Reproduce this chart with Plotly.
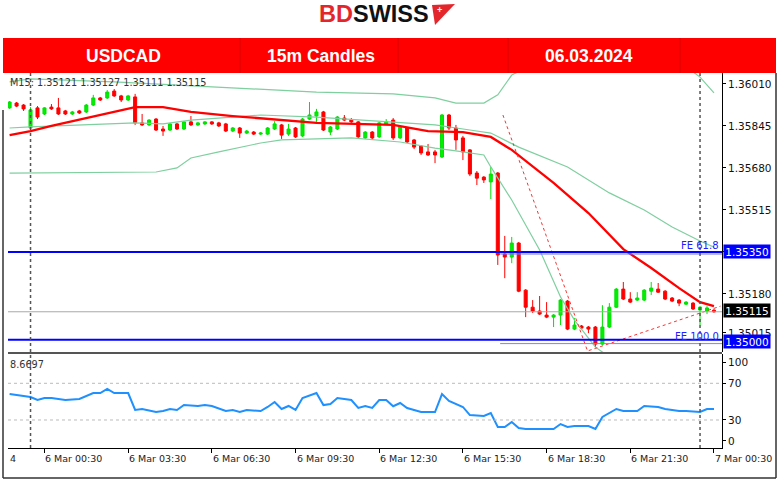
import plotly.graph_objects as go
import pandas as pd

# ---------------- data ----------------
candle_start = "2024-03-05 23:15"   # 15-minute candles
opens = [1.35916, 1.35935, 1.35927, 1.35837, 1.35916, 1.35892, 1.35919, 1.35916, 1.35904, 1.35892,
         1.35904, 1.35900, 1.35927, 1.35955, 1.35955, 1.35982, 1.35963, 1.35947, 1.35959, 1.35857,
         1.35849, 1.35872, 1.35833, 1.35829, 1.35853, 1.35833, 1.35861, 1.35849, 1.35853, 1.35861,
         1.35857, 1.35853, 1.35825, 1.35837, 1.35817, 1.35821, 1.35813, 1.35813, 1.35833, 1.35849,
         1.35813, 1.35837, 1.35806, 1.35872, 1.35884, 1.35900, 1.35821, 1.35833, 1.35876, 1.35868,
         1.35861, 1.35798, 1.35821, 1.35802, 1.35853, 1.35868, 1.35798, 1.35837, 1.35790, 1.35766,
         1.35743, 1.35743, 1.35723, 1.35888, 1.35837, 1.35798, 1.35751, 1.35660, 1.35644, 1.35625,
         1.35660, 1.35342, 1.35330, 1.35385, 1.35200, 1.35133, 1.35118, 1.35102, 1.35094, 1.35102,
         1.35157, 1.35047, 1.35059, 1.35055, 1.35055, 1.34988, 1.35055, 1.35133, 1.35204, 1.35165,
         1.35161, 1.35161, 1.35196, 1.35204, 1.35196, 1.35169, 1.35161, 1.35145, 1.35149, 1.35122,
         1.35118, 1.35121]
highs = [1.35943, 1.35939, 1.35931, 1.35919, 1.35923, 1.35919, 1.35931, 1.35955, 1.35908, 1.35904,
         1.35908, 1.35931, 1.35967, 1.35959, 1.35986, 1.35990, 1.35967, 1.35967, 1.35971, 1.35892,
         1.35872, 1.35876, 1.35845, 1.35857, 1.35857, 1.35864, 1.35884, 1.35861, 1.35864, 1.35864,
         1.35861, 1.35857, 1.35841, 1.35841, 1.35829, 1.35825, 1.35821, 1.35841, 1.35864, 1.35853,
         1.35853, 1.35841, 1.35876, 1.35939, 1.35912, 1.35904, 1.35845, 1.35884, 1.35888, 1.35876,
         1.35864, 1.35825, 1.35825, 1.35861, 1.35872, 1.35876, 1.35845, 1.35841, 1.35794, 1.35770,
         1.35774, 1.35751, 1.35892, 1.35892, 1.35849, 1.35806, 1.35754, 1.35668, 1.35648, 1.35684,
         1.35664, 1.35413, 1.35409, 1.35389, 1.35204, 1.35161, 1.35177, 1.35153, 1.35106, 1.35165,
         1.35161, 1.35090, 1.35063, 1.35059, 1.35059, 1.35141, 1.35149, 1.35208, 1.35232, 1.35192,
         1.35192, 1.35204, 1.35232, 1.35228, 1.35200, 1.35173, 1.35165, 1.35157, 1.35153, 1.35137,
         1.35137, 1.35127]
lows = [1.35912, 1.35919, 1.35904, 1.35833, 1.35872, 1.35888, 1.35908, 1.35888, 1.35888, 1.35888,
        1.35892, 1.35896, 1.35923, 1.35943, 1.35951, 1.35959, 1.35939, 1.35943, 1.35849, 1.35845,
        1.35845, 1.35825, 1.35806, 1.35825, 1.35829, 1.35829, 1.35845, 1.35845, 1.35849, 1.35849,
        1.35841, 1.35821, 1.35821, 1.35798, 1.35813, 1.35809, 1.35809, 1.35809, 1.35829, 1.35794,
        1.35806, 1.35798, 1.35802, 1.35868, 1.35861, 1.35825, 1.35809, 1.35829, 1.35864, 1.35857,
        1.35798, 1.35794, 1.35790, 1.35798, 1.35849, 1.35790, 1.35794, 1.35778, 1.35754, 1.35731,
        1.35727, 1.35699, 1.35719, 1.35829, 1.35751, 1.35711, 1.35648, 1.35613, 1.35621, 1.35558,
        1.35299, 1.35247, 1.35306, 1.35192, 1.35094, 1.35110, 1.35102, 1.35090, 1.35055, 1.35063,
        1.35043, 1.35043, 1.35047, 1.35031, 1.34976, 1.34984, 1.35051, 1.35130, 1.35161, 1.35149,
        1.35157, 1.35157, 1.35181, 1.35189, 1.35161, 1.35153, 1.35137, 1.35141, 1.35122, 1.35063,
        1.35106, 1.35111]
closes = [1.35939, 1.35923, 1.35912, 1.35908, 1.35880, 1.35916, 1.35912, 1.35892, 1.35892, 1.35900,
          1.35896, 1.35927, 1.35955, 1.35947, 1.35978, 1.35963, 1.35947, 1.35963, 1.35857, 1.35849,
          1.35868, 1.35829, 1.35825, 1.35853, 1.35833, 1.35861, 1.35849, 1.35857, 1.35861, 1.35853,
          1.35845, 1.35825, 1.35837, 1.35817, 1.35825, 1.35813, 1.35817, 1.35837, 1.35853, 1.35809,
          1.35833, 1.35802, 1.35872, 1.35888, 1.35900, 1.35829, 1.35841, 1.35880, 1.35868, 1.35861,
          1.35802, 1.35821, 1.35798, 1.35857, 1.35861, 1.35798, 1.35841, 1.35782, 1.35762, 1.35739,
          1.35731, 1.35731, 1.35888, 1.35837, 1.35790, 1.35743, 1.35656, 1.35640, 1.35633, 1.35656,
          1.35338, 1.35330, 1.35385, 1.35196, 1.35133, 1.35118, 1.35106, 1.35094, 1.35102, 1.35161,
          1.35047, 1.35063, 1.35051, 1.35047, 1.34988, 1.35055, 1.35133, 1.35204, 1.35165, 1.35153,
          1.35169, 1.35200, 1.35208, 1.35192, 1.35165, 1.35157, 1.35149, 1.35153, 1.35126, 1.35133,
          1.35130, 1.35115]

# indicator readings: bar offset (15-min bars from 6 Mar 00:00) and value
ma_bar = [-3, 0, 3, 9, 15, 19, 23, 29, 33, 41, 52, 57, 62, 66, 69, 75, 80, 85, 89, 93, 96, 97, 98]
ma_val = [1.35809, 1.35825, 1.35845, 1.35883, 1.35919, 1.35919, 1.35900, 1.35884, 1.35876, 1.35857,
          1.35849, 1.35825, 1.35821, 1.35802, 1.35751, 1.35621, 1.35503, 1.35361, 1.35287, 1.35208,
          1.35153, 1.35145, 1.35137]
bb_mid_bar = [-3, 0, 15, 19, 23, 29, 33, 41, 52, 58, 63, 66, 70, 77, 83, 88, 92, 96, 98]
bb_mid_val = [1.35837, 1.35841, 1.35857, 1.35853, 1.35868, 1.35880, 1.35888, 1.35880, 1.35861, 1.35849,
              1.35829, 1.35817, 1.35762, 1.35684, 1.35582, 1.35515, 1.35448, 1.35393, 1.35369]
bb_up_bar = [-3, 0, 12, 33, 41, 52, 58, 61, 65, 67, 69, 73, 78, 81, 88, 96, 98]
bb_up_val = [1.36018, 1.36030, 1.36018, 1.35990, 1.35978, 1.35971, 1.35955, 1.35935, 1.35935, 1.35967,
             1.36045, 1.36100, 1.36240, 1.36250, 1.36200, 1.36037, 1.35975]
bb_lo_bar = [-3, 18, 21, 23, 27, 33, 36, 46, 53, 58, 61, 65, 66, 69, 73, 76, 78, 81, 85, 90, 96, 98]
bb_lo_val = [1.35660, 1.35664, 1.35680, 1.35719, 1.35743, 1.35778, 1.35790, 1.35798, 1.35782, 1.35758,
             1.35747, 1.35731, 1.35684, 1.35554, 1.35358, 1.35173, 1.35082, 1.34976, 1.34900, 1.34820,
             1.34750, 1.34770]
fib_time = ["2024-03-06 16:56", "2024-03-06 19:58", "2024-03-07 00:44"]
fib_val = [1.35888, 1.34961, 1.35137]

rsi_bar = [-3, -2, 0, 1, 2, 3, 5, 7, 9, 10, 11, 12, 14, 15, 16, 18, 19, 20, 21, 22, 24, 25, 26, 28, 29,
           30, 31, 33, 34, 35, 36, 37, 38, 39, 41, 42, 43, 44, 46, 47, 48, 49, 50, 51, 52, 53, 54, 56,
           58, 59, 60, 62, 63, 65, 66, 67, 68, 69, 70, 71, 75, 76, 77, 78, 80, 81, 82, 84, 85, 87, 88,
           90, 91, 93, 94, 96, 97, 98]
rsi_val = [58.3, 57.3, 55.1, 51.8, 54.0, 54.0, 51.8, 52.9, 59.4, 59.4, 63.8, 59.4, 59.4, 40.9, 42.0,
           38.7, 39.8, 42.0, 40.9, 46.3, 45.3, 46.3, 45.3, 39.8, 40.9, 38.7, 40.9, 39.8, 44.2, 49.6,
           42.0, 45.3, 40.9, 54.0, 59.4, 46.3, 47.4, 54.0, 51.8, 43.1, 45.3, 43.1, 51.8, 51.8, 45.0,
           48.5, 43.1, 38.7, 38.7, 58.3, 50.7, 44.2, 35.4, 34.4, 37.6, 22.4, 22.4, 27.8, 21.3, 20.2,
           20.2, 25.6, 22.4, 23.4, 23.4, 20.2, 33.3, 42.0, 39.8, 39.8, 45.3, 44.2, 42.0, 39.8, 39.8,
           38.7, 42.0, 42.0]

price_ticks = [1.36010, 1.35845, 1.35680, 1.35515, 1.35350, 1.35185, 1.35032]
price_tick_text = ["1.36010", "1.35845", "1.35680", "1.35515", "", "1.35180", "1.35015"]
fe618_level, fe100_level, last_price = 1.35350, 1.35000, 1.35115
time_ticks = ["2024-03-06 00:30", "2024-03-06 03:30", "2024-03-06 06:30", "2024-03-06 09:30",
              "2024-03-06 12:30", "2024-03-06 15:30", "2024-03-06 18:30", "2024-03-06 21:30",
              "2024-03-07 00:30"]
time_tick_text = ["6 Mar 00:30", "6 Mar 03:30", "6 Mar 06:30", "6 Mar 09:30", "6 Mar 12:30",
                  "6 Mar 15:30", "6 Mar 18:30", "6 Mar 21:30", "7 Mar 00:30"]
day_breaks = ["2024-03-06 00:00", "2024-03-07 00:00"]

# ---------------- helpers ----------------
W, H = 780, 483
def px(x): return x / W
def py(y): return 1 - y / H

base = pd.Timestamp("2024-03-06 00:00")
def bt(bars): return [base + pd.Timedelta(minutes=15 * b) for b in bars]

ctimes = pd.date_range(candle_start, periods=len(opens), freq="15min")
x_range = [base + pd.Timedelta(minutes=15 * -3.23), base + pd.Timedelta(minutes=15 * 99.15)]
y_range = [1.34957, 1.36053]
rsi_range = [-0.55, 101.96]

band_col = "#7fcf9f"
fig = go.Figure()
for bars, vals in [(bb_up_bar, bb_up_val), (bb_mid_bar, bb_mid_val), (bb_lo_bar, bb_lo_val)]:
    fig.add_trace(go.Scatter(x=bt(bars), y=vals, mode="lines", line=dict(color=band_col, width=1.2),
                             hoverinfo="skip", showlegend=False, xaxis="x", yaxis="y"))
fig.add_trace(go.Candlestick(
    x=ctimes, open=opens, high=highs, low=lows, close=closes,
    increasing=dict(line=dict(color="#00E000", width=1), fillcolor="#00F000"),
    decreasing=dict(line=dict(color="#FF0000", width=1), fillcolor="#FF0000"),
    whiskerwidth=0, showlegend=False, hoverinfo="skip", xaxis="x", yaxis="y"))
fig.add_trace(go.Scatter(x=bt(ma_bar), y=ma_val, mode="lines", line=dict(color="#FF0000", width=2.3),
                         hoverinfo="skip", showlegend=False, xaxis="x", yaxis="y"))
fig.add_trace(go.Scatter(x=fib_time, y=fib_val, mode="lines",
                         line=dict(color="#FF3030", width=1, dash="dot"),
                         hoverinfo="skip", showlegend=False, xaxis="x", yaxis="y"))
fig.add_trace(go.Scatter(x=bt(rsi_bar), y=rsi_val, mode="lines", line=dict(color="#1E90FF", width=2),
                         hoverinfo="skip", showlegend=False, xaxis="x2", yaxis="y2"))

shapes = []
# header banner
shapes.append(dict(type="rect", xref="paper", yref="paper", x0=px(3), x1=px(776), y0=py(73), y1=py(38),
                   fillcolor="#FF0000", line=dict(width=0), layer="below"))
for xs in [240, 398, 508, 680]:
    shapes.append(dict(type="line", xref="paper", yref="paper", x0=px(xs), x1=px(xs), y0=py(73), y1=py(38),
                       line=dict(color="#D80000", width=1)))
# logo flag
shapes.append(dict(type="path", xref="paper", yref="paper",
                   path=f"M {px(432)},{py(5)} L {px(455)},{py(4)} L {px(435)},{py(25)} Z",
                   fillcolor="#E3262B", line=dict(width=0)))
# horizontal levels
def hline(yv, col, w, x0=None, dash="solid", yref="y"):
    if x0 is None:
        return dict(type="line", xref="paper", yref=yref, x0=px(8), x1=px(722), y0=yv, y1=yv,
                    line=dict(color=col, width=w, dash=dash))
    return dict(type="line", xref="x", yref=yref, x0=x0, x1=x_range[1], y0=yv, y1=yv,
                line=dict(color=col, width=w, dash=dash))
shapes.append(hline(last_price, "#A8A8A8", 1))
shapes.append(hline(fe618_level, "#0000FF", 2))
shapes.append(hline(fe618_level - 0.00008, "#7070FF", 1, x0="2024-03-06 16:50"))
shapes.append(hline(fe100_level + 0.00005, "#0000FF", 2))
shapes.append(hline(fe100_level - 0.00010, "#8080FF", 1, x0="2024-03-06 16:50"))
shapes.append(hline(70, "#BBBBBB", 1, dash="dot", yref="y2"))
shapes.append(hline(30, "#BBBBBB", 1, dash="dot", yref="y2"))
# separator between panels
shapes.append(dict(type="line", xref="paper", yref="paper", x0=px(8), x1=px(722), y0=py(353), y1=py(353),
                   line=dict(color="#555555", width=2)))
# day separators
for d in day_breaks:
    shapes.append(dict(type="line", xref="x", yref="paper", x0=d, x1=d, y0=py(448), y1=py(73),
                       line=dict(color="#555555", width=1.5, dash="dot")))
# outer frame
shapes.append(dict(type="line", xref="paper", yref="paper", x0=px(3), x1=px(3), y0=py(478), y1=py(110),
                   line=dict(color="#333333", width=1.5)))
shapes.append(dict(type="line", xref="paper", yref="paper", x0=px(776), x1=px(776), y0=py(478), y1=py(73),
                   line=dict(color="#333333", width=1.5)))
shapes.append(dict(type="line", xref="paper", yref="paper", x0=px(3), x1=px(776), y0=py(478), y1=py(478),
                   line=dict(color="#333333", width=1.5)))

ann = []
def text(x, y, t, size, color="#000", xanchor="left", family="DejaVu Sans", **kw):
    d = dict(xref="paper", yref="paper", x=px(x), y=py(y), text=t, showarrow=False, xanchor=xanchor,
             yanchor="middle", font=dict(family=family, size=size, color=color))
    d.update(kw)
    ann.append(d)

text(374, 14, "<b><span style='color:#E3262B'>BD</span><span style='color:#111111'>SWISS</span></b>",
     23.5, family="Liberation Sans", xanchor="center")
text(439, 10, "<b>+</b>", 9, color="#FFFFFF", xanchor="center", family="Liberation Sans")
text(123, 56, "<b>USDCAD</b>", 17.5, "#FFFFFF", "center", "Liberation Sans")
text(321, 56, "<b>15m Candles</b>", 17.5, "#FFFFFF", "center", "Liberation Sans")
text(589, 56, "<b>06.03.2024</b>", 17.5, "#FFFFFF", "center", "Liberation Sans")
text(8, 82, f"M15: {opens[-1]:.5f} {highs[-1]:.5f} {lows[-1]:.5f} {closes[-1]:.5f}", 9.7, "#333333")
text(721, 246, "FE 61.8", 10, "#2020FF", "right")
text(721, 336.5, "FE 100.0", 10, "#2020FF", "right")
text(8, 364, "8.6697", 9.7, "#333333")
text(8, 458, "4", 9.5, "#222222")
for t, lab in zip(time_ticks, time_tick_text):
    ann.append(dict(xref="x2", yref="paper", x=t, y=py(458), text=lab, showarrow=False, xanchor="left",
                    yanchor="middle", xshift=-1, font=dict(family="DejaVu Sans", size=9.5, color="#222222")))
# price boxes on axis
for yc, lab, bg in [(251.5, f"{fe618_level:.5f}", "#0000FF"), (310.5, f"{last_price:.5f}", "#000000"),
                    (341, f"{fe100_level:.5f}", "#0000FF")]:
    text(723, yc, lab, 10.5, "#FFFFFF", "left", bgcolor=bg, borderpad=1, width=44, height=11, align="center")

axis_font = dict(family="DejaVu Sans", size=10.5, color="#111111")
fig.update_layout(
    width=W, height=H, margin=dict(l=0, r=0, t=0, b=0),
    paper_bgcolor="#FFFFFF", plot_bgcolor="#FFFFFF", showlegend=False,
    boxgap=0.38,
    xaxis=dict(domain=[px(8), px(722)], range=x_range, visible=False, anchor="y",
               rangeslider=dict(visible=False)),
    yaxis=dict(domain=[py(352), py(73)], range=y_range, side="right", anchor="x",
               showline=True, linecolor="#000000", linewidth=1, ticks="outside", ticklen=3,
               tickcolor="#000000", tickvals=price_ticks, ticktext=price_tick_text, tickfont=axis_font,
               showgrid=False, zeroline=False),
    xaxis2=dict(domain=[px(8), px(722)], range=x_range, anchor="y2", showline=True, linecolor="#000000",
                linewidth=1, ticks="outside", ticklen=4, tickcolor="#000000", tickvals=time_ticks,
                showticklabels=False, showgrid=False, zeroline=False),
    yaxis2=dict(domain=[py(448), py(354)], range=rsi_range, side="right", anchor="x2",
                showline=True, linecolor="#000000", linewidth=1, ticks="outside", ticklen=3,
                tickcolor="#000000", tickvals=[93.2, 70, 30, 7.1], ticktext=["100", "70", "30", "0"],
                tickfont=axis_font, showgrid=False, zeroline=False),
    shapes=shapes, annotations=ann,
)
fig.write_html("out.html", config={"displayModeBar": False},
               post_script="document.body.style.margin='0';document.body.style.padding='0';"
                           "document.body.style.overflow='hidden';")
